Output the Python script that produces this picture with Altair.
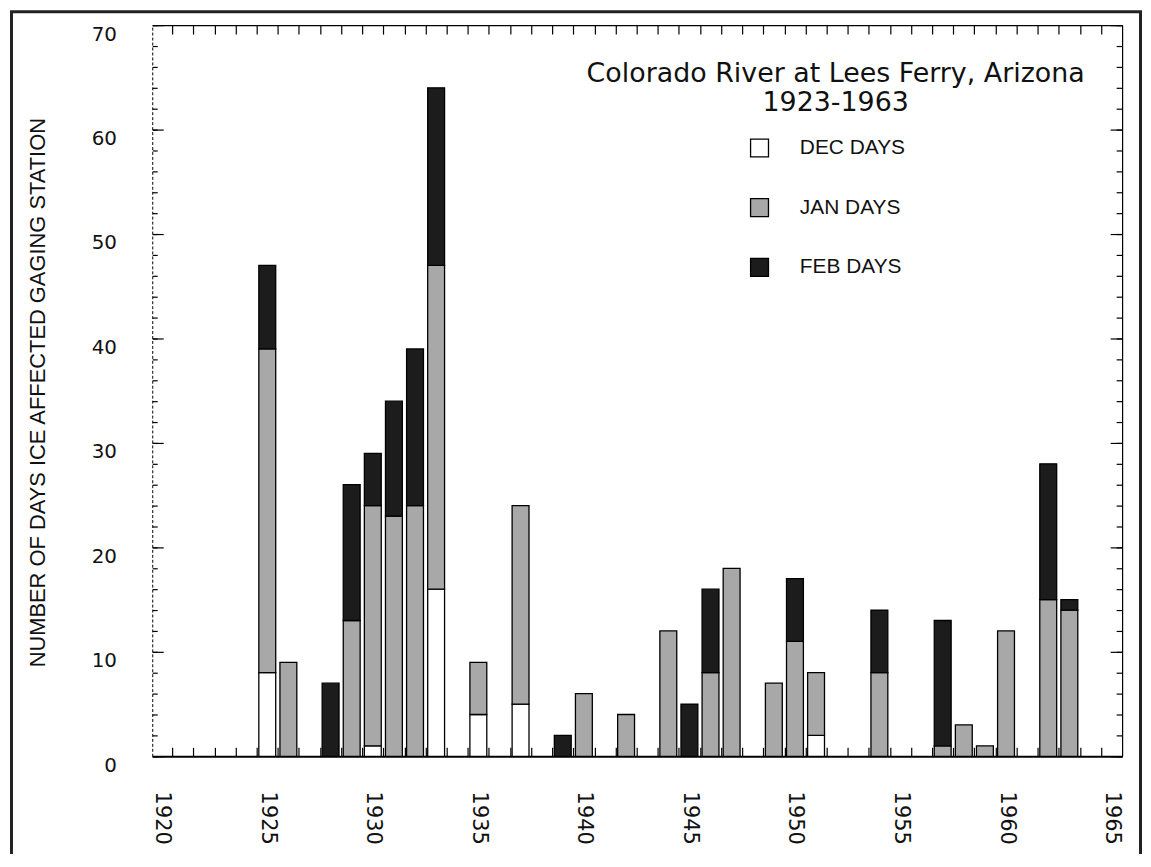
import altair as alt
import pandas as pd

# ---- data ----
years = [1925, 1926, 1928, 1929, 1930, 1931, 1932, 1933, 1935, 1937, 1939, 1940,
         1942, 1944, 1945, 1946, 1947, 1949, 1950, 1951, 1954, 1957, 1958, 1959,
         1960, 1962, 1963]
dec_days = [8, 0, 0, 0, 1, 0, 0, 16, 4, 5, 0, 0,
            0, 0, 0, 0, 0, 0, 0, 2, 0, 0, 0, 0,
            0, 0, 0]
jan_days = [31, 9, 0, 13, 23, 23, 24, 31, 5, 19, 0, 6,
            4, 12, 0, 8, 18, 7, 11, 6, 8, 1, 3, 1,
            12, 15, 14]
feb_days = [8, 0, 7, 13, 5, 11, 15, 17, 0, 0, 2, 0,
            0, 0, 5, 8, 0, 0, 6, 0, 6, 12, 0, 0,
            0, 13, 1]
series_names = ["DEC DAYS", "JAN DAYS", "FEB DAYS"]
x_tick_labels = [1920, 1925, 1930, 1935, 1940, 1945, 1950, 1955, 1960, 1965]
y_tick_labels = [0, 10, 20, 30, 40, 50, 60, 70]
title_lines = ["Colorado River at Lees Ferry, Arizona", "1923-1963"]
y_title = "NUMBER OF DAYS ICE AFFECTED GAGING STATION"

# ---- stacked table ----
rows = []
for i, yr in enumerate(years):
    base_v = 0
    for name, vals in zip(series_names, (dec_days, jan_days, feb_days)):
        v = vals[i]
        if v > 0:
            rows.append({"year": yr, "month": name, "lo": base_v, "hi": base_v + v})
            base_v += v
df = pd.DataFrame(rows)

W, H = 975, 735
xs = alt.Scale(domain=[1919.55, 1965.5], nice=False, zero=False)
ys = alt.Scale(domain=[0, 70], nice=False, zero=True)

year_ticks = [y + 0.5 for y in range(1920, 1965)]
minor_y = list(range(0, 71, 2))

base = alt.Chart(df).transform_calculate(
    x0="datum.year - 0.4", x1="datum.year + 0.4"
)

ax_bottom = alt.Axis(
    orient="bottom", values=x_tick_labels, format="d", labelAngle=90,
    ticks=False, labelPadding=35, labelFlush=False, labelOverlap=False,
    labelFont="DejaVu Sans", labelFontSize=21, labelColor="#111",
    domainWidth=2, domainColor="black", title=None,
)
ax_left = alt.Axis(
    orient="left", values=y_tick_labels, ticks=False, labelPadding=36,
    labelOffset=9, labelFont="DejaVu Sans", labelFontSize=20, labelColor="#111",
    domainDash=[3, 2], domainColor="black", domainWidth=1,
    title=y_title, titleFont="Liberation Sans", titleFontSize=22,
    titleFontWeight="normal", titleColor="#111", titleX=-115, titleY=369,
    titleBaseline="middle", titleAlign="center", titleAngle=270,
)

bars = base.mark_bar(stroke="black", strokeWidth=1.3).encode(
    x=alt.X("x0:Q", scale=xs, axis=ax_bottom),
    x2="x1:Q",
    y=alt.Y("lo:Q", scale=ys, axis=ax_left),
    y2="hi:Q",
    color=alt.Color(
        "month:N",
        scale=alt.Scale(domain=series_names, range=["#ffffff", "#a8a8a8", "#1c1c1c"]),
        legend=alt.Legend(
            orient="none", legendX=600, legendY=113, title=None,
            symbolType="square", symbolSize=324, symbolStrokeColor="black",
            symbolStrokeWidth=1.3, labelFont="Liberation Sans", labelFontSize=21,
            labelColor="#111", labelOffset=30, rowPadding=35, padding=0,
        ),
    ),
)


def tick_layer(channel, axis):
    enc = {}
    if channel == "x":
        enc["x"] = alt.X("x0:Q", scale=xs, axis=axis)
        enc["y"] = alt.Y("lo:Q", scale=ys, axis=None)
    else:
        enc["x"] = alt.X("x0:Q", scale=xs, axis=None)
        enc["y"] = alt.Y("lo:Q", scale=ys, axis=axis)
    return base.mark_bar(opacity=0).encode(x2="x1:Q", y2="hi:Q", **enc)


common = dict(labels=False, title=None, tickColor="black", tickWidth=1.2)
top_ticks = tick_layer("x", alt.Axis(orient="bottom", offset=-H, values=year_ticks,
                                     tickSize=9, domain=True, domainColor="black",
                                     domainWidth=1.2, **common))
bottom_ticks = tick_layer("x", alt.Axis(orient="top", offset=-H, values=year_ticks,
                                        tickSize=9, domain=False, **common))
left_major = tick_layer("y", alt.Axis(orient="right", offset=-W, values=y_tick_labels,
                                      tickSize=11, domain=False, **common))
left_minor = tick_layer("y", alt.Axis(orient="right", offset=-W, values=minor_y,
                                      tickSize=5, domain=False, **common))
right_major = tick_layer("y", alt.Axis(orient="left", offset=-W, values=y_tick_labels,
                                       tickSize=12, domain=True, domainColor="black",
                                       domainWidth=1.2, **common))
right_minor = tick_layer("y", alt.Axis(orient="left", offset=-W, values=minor_y,
                                       tickSize=6, domain=False, **common))

title1 = alt.Chart(pd.DataFrame({"t": [title_lines[0]]})).mark_text(
    font="DejaVu Sans", fontSize=27, color="#111", align="center", baseline="middle"
).encode(text="t:N", x=alt.value(687), y=alt.value(49))
title2 = alt.Chart(pd.DataFrame({"t": [title_lines[1]]})).mark_text(
    font="DejaVu Sans", fontSize=27, color="#111", align="center", baseline="middle"
).encode(text="t:N", x=alt.value(687), y=alt.value(78))

frame = alt.Chart(pd.DataFrame({"f": [0]})).mark_rect(
    fillOpacity=0, stroke="#222", strokeWidth=3
).encode(x=alt.value(-141.5), x2=alt.value(993.5), y=alt.value(-13.5), y2=alt.value(900))

chart = alt.layer(
    frame, top_ticks, bottom_ticks, left_major, left_minor, right_major, right_minor,
    bars, title1, title2,
).resolve_axis(x="independent", y="independent").properties(
    width=W, height=H,
    padding={"left": 145, "top": 15, "right": 21, "bottom": 96},
    autosize=alt.AutoSizeParams(type="none"),
    background="white",
).configure_view(stroke=None).configure_axis(grid=False)

chart.save("out.html", embed_options={"renderer": "svg", "actions": False})
